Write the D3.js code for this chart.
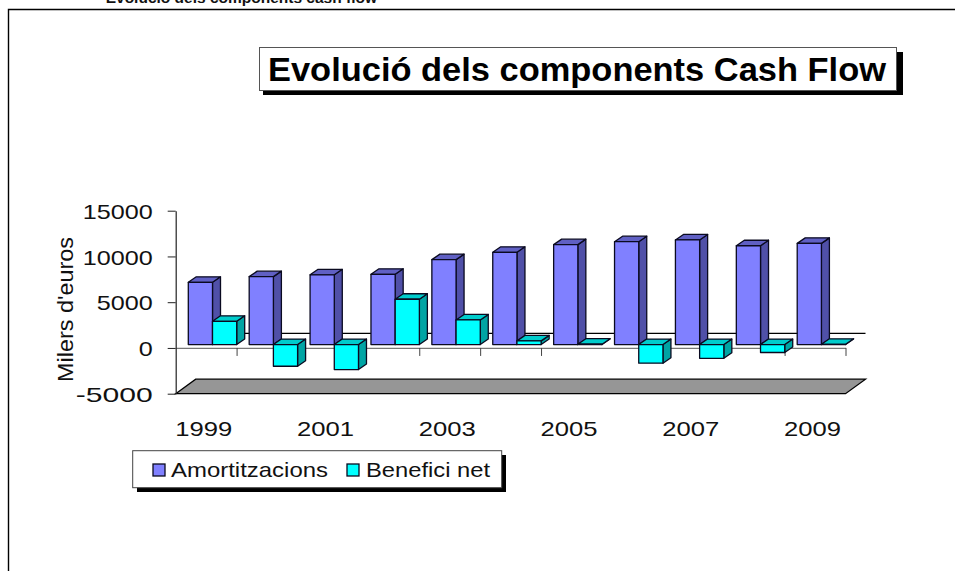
<!DOCTYPE html>
<html>
<head>
<meta charset="utf-8">
<script src="https://cdn.jsdelivr.net/npm/d3@7"></script>
<style>
	body { margin: 0; background: #fff; }
	text { font-family: "Liberation Sans", Arial, sans-serif; fill: #111; }
</style>
</head>
<body>
<div id="chart-area"></div>
<script>
// values (milers d'euros)
var years = ["1999","2000","2001","2002","2003","2004","2005","2006","2007","2008","2009"];
var amortitzacions = [6800, 7420, 7620, 7680, 9280, 10080, 10920, 11240, 11430, 10800, 11060];
var benefici = [2540, -2370, -2730, 4950, 2690, 400, 40, -2040, -1500, -870, 30];
var seriesNames = ["Amortitzacions", "Benefici net"];
var yTicks = [-5000, 0, 5000, 10000, 15000];
var xLabels = ["1999","2001","2003","2005","2007","2009"];
var xTickIndex = [1,2,3,4,5,6,8,9,10,11]; // the one at 7 does not show in the original

var width = 955, height = 571;

var svg = d3.select("#chart-area").append("svg")
	.attr("width", width)
	.attr("height", height)
	.style("display", "block");

// scales
var y = d3.scaleLinear().domain([-5000, 15000]).range([393.7, 210.7]);
var xEdge = d3.scaleLinear().domain([0, 11]).range([175.7, 845.5]);
var xBand = d3.scaleBand().domain(years).range([175.7, 845.5]);
var xSeries = d3.scaleBand().domain(seriesNames).range([12.6, 61]);

// 3d offsets
var wallDx = 20, wallDy = -14.5;   // whole depth of the floor
var barShiftX = 0, barShiftY = -3.4;
var depthX = 8, depthY = -5.5;

// frame of the sheet
svg.append("path")
	.attr("d", "M8.5,571V9.5H955")
	.attr("fill", "none")
	.attr("stroke", "#000")
	.attr("stroke-width", 1.4);

// clipped heading at the very top
svg.append("text")
	.attr("x", 377).attr("y", 3)
	.attr("text-anchor", "end")
	.style("font-size", "15.5px")
	.style("font-weight", "bold")
	.text("Evolució dels components cash flow");

// floor
var floorY = y(-5000), x0 = xEdge(0), x1 = xEdge(11);
svg.append("path")
	.attr("d", "M" + x0 + "," + floorY + "L" + (x0 + wallDx) + "," + (floorY + wallDy) +
		"H" + (x1 + wallDx) + "L" + x1 + "," + floorY + "Z")
	.attr("fill", "#969696")
	.attr("stroke", "#000")
	.attr("stroke-width", 1.3);

// zero plane, back edge
svg.append("line")
	.attr("x1", x0 + wallDx).attr("x2", x1 + wallDx)
	.attr("y1", y(0) + wallDy).attr("y2", y(0) + wallDy)
	.attr("stroke", "#000")
	.attr("stroke-width", 1.2);

// zero line with the category ticks
var xAxis = d3.axisBottom(xEdge)
	.tickValues(xTickIndex)
	.tickSize(8)
	.tickSizeOuter(0)
	.tickFormat("");
svg.append("g")
	.attr("transform", "translate(0," + y(0) + ")")
	.call(xAxis)
	.call(function(g){ g.select(".domain").attr("stroke", "#777").attr("stroke-width", 1.3); })
	.call(function(g){ g.selectAll("line").attr("stroke", "#444"); });

// y axis
var yAxis = d3.axisLeft(y)
	.tickValues(yTicks)
	.tickSize(8)
	.tickSizeOuter(0)
	.tickPadding(15)
	.tickFormat(function(d){ return d; });
var yG = svg.append("g")
	.attr("transform", "translate(" + x0 + ",0)")
	.call(yAxis);
yG.selectAll("line").attr("stroke", "#222");
yG.select(".domain").attr("stroke", "#222").attr("stroke-width", 1.2);
yG.selectAll("text")
	.attr("dy", "0.36em")
	.style("font-size", "21px")
	.style("font-family", null)
	.attr("lengthAdjust", "spacingAndGlyphs")
	.attr("textLength", function(d){ return String(d).length * 14 + (d < 0 ? 7 : 0); });
yG.attr("font-family", null).attr("font-size", null);

// bars, purple then cyan for each year so they overlap like the original
var rows = [];
years.forEach(function(yr, i){
	rows.push({year: yr, name: seriesNames[0], v: amortitzacions[i], front: "#8080ff", side: "#5050a8", top: "#6060c4"});
	rows.push({year: yr, name: seriesNames[1], v: benefici[i], front: "#00ffff", side: "#00a4a4", top: "#00cccc"});
});

var bars = svg.selectAll("g.bar")
	.data(rows)
	.enter()
	.append("g")
		.attr("class", "bar")
		.attr("stroke", "#0a0a20")
		.attr("stroke-width", 1.3)
		.attr("stroke-linejoin", "round");

function left(d){ return xBand(d.year) + xSeries(d.name) + barShiftX; }
function right(d){ return left(d) + xSeries.bandwidth(); }
function upper(d){ return y(Math.max(d.v, 0)) + barShiftY; }
function lower(d){ return y(Math.min(d.v, 0)) + barShiftY; }

bars.append("path")
	.attr("fill", function(d){ return d.side; })
	.attr("d", function(d){
		return "M" + right(d) + "," + upper(d) + "l" + depthX + "," + depthY +
			"V" + (lower(d) + depthY) + "L" + right(d) + "," + lower(d) + "Z";
	});
bars.append("path")
	.attr("fill", function(d){ return d.top; })
	.attr("d", function(d){
		return "M" + left(d) + "," + upper(d) + "l" + depthX + "," + depthY +
			"H" + (right(d) + depthX) + "L" + right(d) + "," + upper(d) + "Z";
	});
bars.append("rect")
	.attr("fill", function(d){ return d.front; })
	.attr("x", left)
	.attr("y", upper)
	.attr("width", xSeries.bandwidth())
	.attr("height", function(d){ return lower(d) - upper(d); });

// year labels, every second one
svg.selectAll("text.year")
	.data(xLabels)
	.enter()
	.append("text")
		.attr("class", "year")
		.attr("x", function(d){ return xBand(d) + xBand.bandwidth()/2 - 2.5; })
		.attr("y", 435.5)
		.attr("text-anchor", "middle")
		.attr("lengthAdjust", "spacingAndGlyphs")
		.attr("textLength", 57)
		.style("font-size", "21px")
		.text(function(d){ return d; });

// y axis title
svg.append("text")
	.attr("transform", "translate(73,309.5) rotate(-90)")
	.attr("text-anchor", "middle")
	.attr("lengthAdjust", "spacingAndGlyphs")
	.attr("textLength", 145)
	.style("font-size", "22px")
	.text("Milers d'euros");

// chart title
svg.append("rect").attr("x", 263).attr("y", 52).attr("width", 640).attr("height", 43).attr("fill", "#000");
svg.append("rect").attr("x", 259.5).attr("y", 47.5).attr("width", 637).attr("height", 43)
	.attr("fill", "#fff").attr("stroke", "#555").attr("stroke-width", 1);
svg.append("text")
	.attr("x", 268).attr("y", 81)
	.attr("lengthAdjust", "spacingAndGlyphs")
	.attr("textLength", 618)
	.style("font-size", "34px")
	.style("font-weight", "bold")
	.style("fill", "#000")
	.text("Evolució dels components Cash Flow");

// legend
var legendColors = ["#8080ff", "#00ffff"];
var legendSwatchX = [153, 347];
var legendTextX = [171, 366];
var legendTextW = [157, 124];

svg.append("rect").attr("x", 137).attr("y", 455).attr("width", 369).attr("height", 37).attr("fill", "#000");
svg.append("rect").attr("x", 132.7).attr("y", 450.7).attr("width", 369).attr("height", 37)
	.attr("fill", "#fff").attr("stroke", "#444").attr("stroke-width", 1);

var legend = svg.selectAll("g.legend")
	.data(seriesNames)
	.enter()
	.append("g")
		.attr("class", "legend");
legend.append("rect")
	.attr("x", function(d,i){ return legendSwatchX[i]; })
	.attr("y", 464)
	.attr("width", 12)
	.attr("height", 12)
	.attr("fill", function(d,i){ return legendColors[i]; })
	.attr("stroke", "#0a0a20")
	.attr("stroke-width", 1.3);
legend.append("text")
	.attr("x", function(d,i){ return legendTextX[i]; })
	.attr("y", 477)
	.attr("lengthAdjust", "spacingAndGlyphs")
	.attr("textLength", function(d,i){ return legendTextW[i]; })
	.style("font-size", "21px")
	.text(function(d){ return d; });
</script>
</body>
</html>
